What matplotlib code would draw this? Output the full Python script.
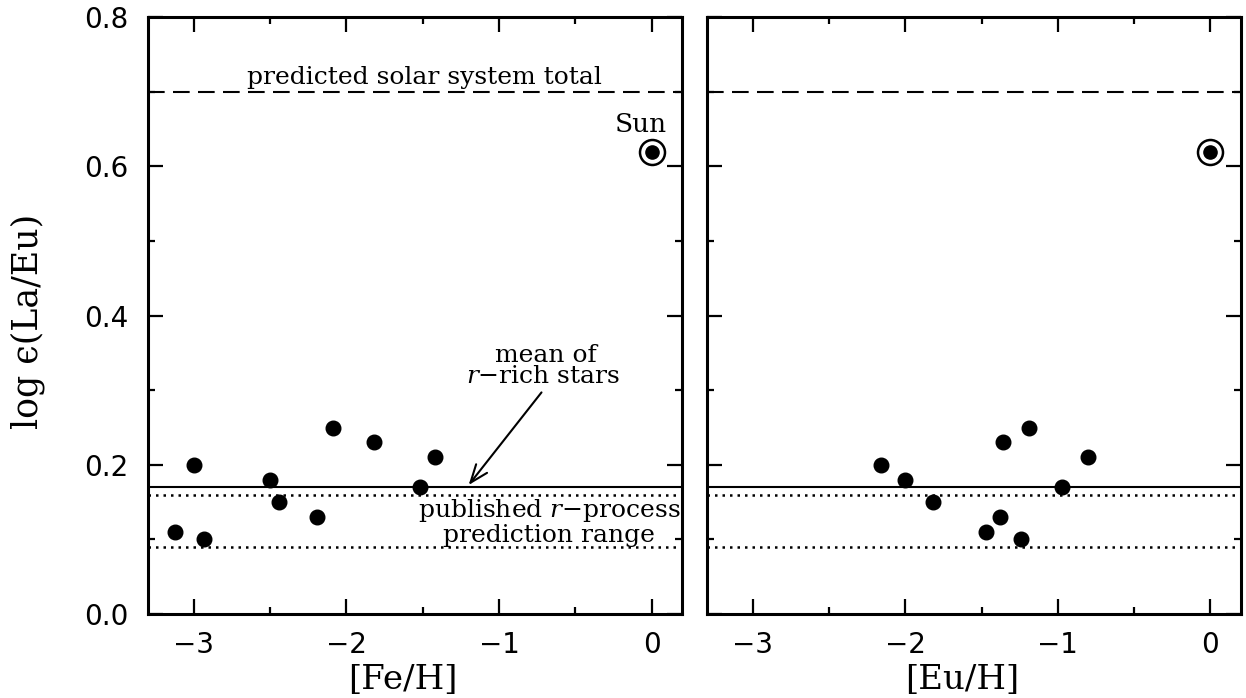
import matplotlib.pyplot as plt
from matplotlib.ticker import MultipleLocator

plt.rcParams['font.family'] = ['DejaVu Serif']
plt.rcParams['mathtext.fontset'] = 'dejavuserif'

# stars: [Fe/H], [Eu/H], log eps(La/Eu)
fe_h = [-3.12, -3.00, -2.93, -2.50, -2.44, -2.19, -2.09, -1.82, -1.52, -1.42]
eu_h = [-1.47, -2.16, -1.24, -2.00, -1.82, -1.38, -1.19, -1.36, -0.97, -0.80]
la_eu = [0.11, 0.20, 0.10, 0.18, 0.15, 0.13, 0.25, 0.23, 0.17, 0.21]

sun_x = 0.0
sun_y = 0.62
solar_total = 0.70
rich_mean = 0.17
rproc_range = [0.16, 0.09]

fig = plt.figure(figsize=(12.46, 6.98), dpi=100)
ax1 = fig.add_axes([0.1188, 0.1203, 0.4286, 0.855])
ax2 = fig.add_axes([0.5674, 0.1203, 0.4286, 0.855])

for ax, xs, xlab in [(ax1, fe_h, '[Fe/H]'), (ax2, eu_h, '[Eu/H]')]:
    ax.axhline(solar_total, color='k', ls=(0, (8, 4)), lw=1.5)
    ax.axhline(rich_mean, color='k', ls='-', lw=1.5)
    for v in rproc_range:
        ax.axhline(v, color='k', ls=(0, (1, 2)), lw=1.8)
    ax.plot(xs, la_eu, 'o', color='k', ms=10.5, mec='k')
    ax.plot(sun_x, sun_y, 'o', ms=18, mfc='white', mec='k', mew=1.8)
    ax.plot(sun_x, sun_y, 'o', ms=9.5, color='k')
    ax.set_xlim(-3.3, 0.2)
    ax.set_ylim(0.0, 0.8)
    ax.xaxis.set_major_locator(MultipleLocator(1))
    ax.xaxis.set_minor_locator(MultipleLocator(0.5))
    ax.yaxis.set_major_locator(MultipleLocator(0.2))
    ax.yaxis.set_minor_locator(MultipleLocator(0.1))
    ax.tick_params(which='both', direction='in', top=True, right=True, width=1.6)
    ax.tick_params(which='major', length=11)
    ax.tick_params(which='minor', length=5)
    ax.tick_params(axis='x', which='major', pad=12)
    ax.tick_params(axis='y', which='major', pad=14)
    for sp in ax.spines.values():
        sp.set_linewidth(2.2)
    ax.set_xlabel(xlab, fontsize=24.5)
    ax.xaxis.set_label_coords(0.478, -0.083)

ax1.yaxis.set_major_formatter(plt.FuncFormatter(lambda v, p: '%.1f' % v))
ax2.set_yticklabels([])
for ax in (ax1, ax2):
    for lab in ax.get_xticklabels() + ax.get_yticklabels():
        lab.set_fontfamily('DejaVu Sans')
        lab.set_fontsize(20)
ax1.set_ylabel('log \u03f5(La/Eu)', fontsize=25)
ax1.yaxis.set_label_coords(-0.193, 0.49)

ax1.text(-1.49, 0.71, 'predicted solar system total', ha='center', va='baseline', fontsize=18)
ax1.text(-0.07, 0.646, 'Sun', ha='center', va='baseline', fontsize=19)
ax1.text(-0.69, 0.338, 'mean of', ha='center', va='baseline', fontsize=18)
ax1.text(-0.71, 0.310, '$r$\u2212rich stars', ha='center', va='baseline', fontsize=18)
ax1.annotate('', xy=(-1.21, rich_mean), xytext=(-0.71, 0.30),
             arrowprops=dict(arrowstyle='->,head_length=1.3,head_width=0.5', color='k', lw=1.5))
ax1.text(-0.67, 0.130, 'published $r$\u2212process', ha='center', va='baseline', fontsize=18)
ax1.text(-0.67, 0.097, 'prediction range', ha='center', va='baseline', fontsize=18)

fig.savefig('out.png', dpi=100)
